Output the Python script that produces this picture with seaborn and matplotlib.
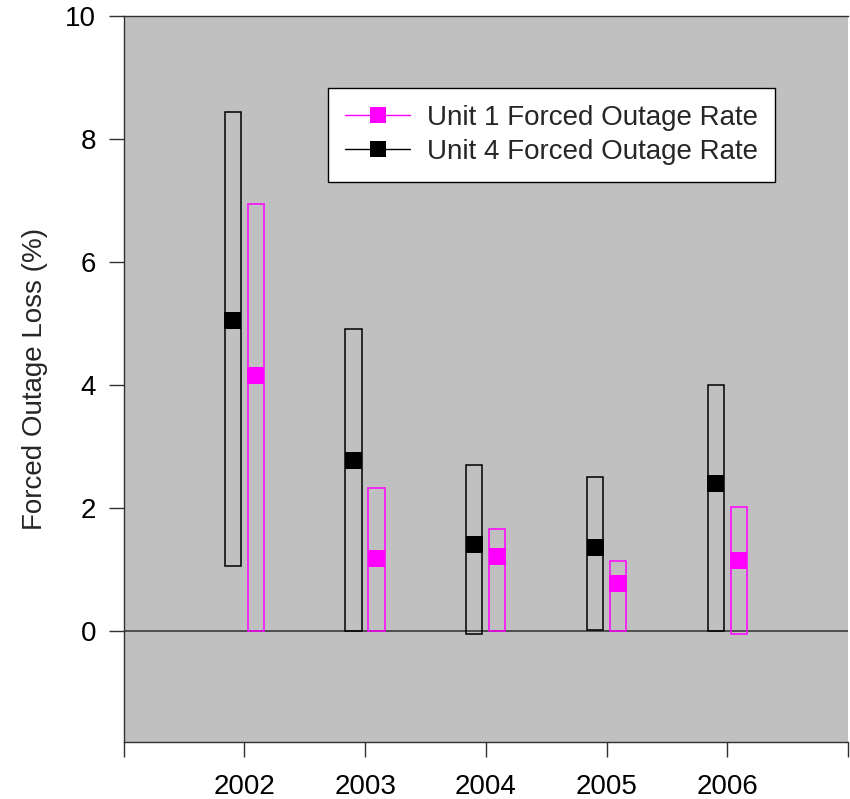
import matplotlib
matplotlib.use("Agg")
import matplotlib.pyplot as plt
from matplotlib.lines import Line2D
import numpy as np
import pandas as pd
import seaborn as sns

# Yearly forced outage loss (%) per unit: range low/high and the point value
years = [2002, 2003, 2004, 2005, 2006]

unit1_low = [0.0, 0.0, 0.0, 0.0, -0.04]
unit1_high = [6.94, 2.33, 1.66, 1.14, 2.02]
unit1_value = [4.16, 1.18, 1.22, 0.78, 1.15]

unit4_low = [1.06, 0.0, -0.04, 0.02, 0.0]
unit4_high = [8.44, 4.92, 2.70, 2.51, 4.00]
unit4_value = [5.06, 2.78, 1.42, 1.37, 2.40]

unit_names = ["Unit 1 Forced Outage Rate", "Unit 4 Forced Outage Rate"]
unit_colors = ["#FF00FF", "#000000"]
y_ticks = [0, 2, 4, 6, 8, 10]

sns.set_theme(style="white")
plt.rcParams["font.family"] = ["Liberation Sans", "DejaVu Sans"]

fig = plt.figure(figsize=(8.5, 7.99), dpi=100)
ax = fig.add_axes([0.1455, 0.071, 0.8521, 0.909])
ax.set_facecolor("#C0C0C0")

offset = 0.095
bar_w = 0.135
x_yr = np.array(years, dtype=float)

# floating range bars
ax.bar(x_yr - offset, np.array(unit4_high) - np.array(unit4_low), bottom=unit4_low,
       width=bar_w, fill=False, edgecolor=unit_colors[1], linewidth=1.1, zorder=2)
ax.bar(x_yr + offset, np.array(unit1_high) - np.array(unit1_low), bottom=unit1_low,
       width=bar_w, fill=False, edgecolor=unit_colors[0], linewidth=1.1, zorder=2)

# zero reference line
ax.axhline(0, color="#303030", linewidth=1.1, zorder=1)

# point values as square markers
df = pd.DataFrame({
    "x": np.concatenate([x_yr + offset, x_yr - offset]),
    "value": unit1_value + unit4_value,
    "unit": [unit_names[0]] * len(years) + [unit_names[1]] * len(years),
})
sns.scatterplot(data=df, x="x", y="value", hue="unit",
                palette=dict(zip(unit_names, unit_colors)),
                marker="s", s=150, linewidth=0, legend=False, ax=ax, zorder=3)

ax.set_xlim(2001, 2007)
ax.set_ylim(-1.8, 10)
ax.set_xticks([2001] + years + [2007])
ax.set_xticklabels([""] + [str(y) for y in years] + [""])
ax.set_yticks(y_ticks)
ax.set_yticklabels([str(t) for t in y_ticks])
ax.set_xlabel("")
ax.set_ylabel("Forced Outage Loss (%)", fontsize=20)
ax.yaxis.set_label_coords(-0.105, 0.5)

ax.tick_params(axis="both", which="major", direction="out", length=11, width=1,
               color="#303030", labelsize=20, labelcolor="black")
ax.tick_params(axis="x", pad=12)
ax.tick_params(axis="y", pad=9)
ax.tick_params(left=True, bottom=True)

for side in ["left", "bottom", "top"]:
    ax.spines[side].set_visible(True)
    ax.spines[side].set_color("#303030")
    ax.spines[side].set_linewidth(1)
ax.spines["right"].set_visible(False)

handles = [Line2D([0], [0], color=c, lw=1, marker="s", markersize=12,
                  markeredgewidth=0, markerfacecolor=c) for c in unit_colors]
leg = ax.legend(handles, unit_names, loc="upper left",
                bbox_to_anchor=((328 - 123.7) / 724.3, (742.3 - 88) / 726.3),
                fontsize=20, frameon=True, fancybox=False, framealpha=1,
                facecolor="white", edgecolor="black", handlelength=2.34,
                handletextpad=0.6, labelspacing=0.27, borderpad=0.62,
                borderaxespad=0)
leg.get_frame().set_linewidth(1)

fig.savefig("out.png", dpi=100)
